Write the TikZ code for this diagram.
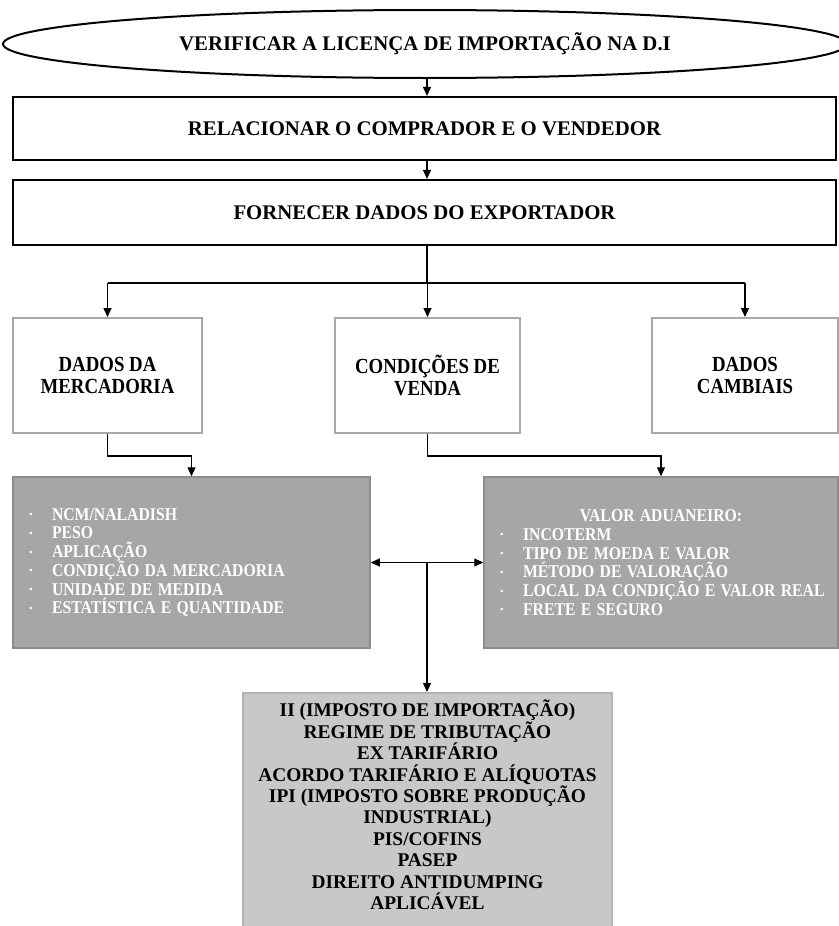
\documentclass[tikz,border=0pt]{standalone}
\usepackage{fontspec}
\usepackage{graphicx}
\setmainfont{Liberation Serif}
\usetikzlibrary{arrows.meta,shapes.geometric,calc}
\definecolor{boxgray}{HTML}{A6A6A6}
\definecolor{boxgrayline}{HTML}{8C8C8C}
\definecolor{whiteline}{HTML}{A8A8A8}
\definecolor{taxfill}{HTML}{C8C8C8}
\definecolor{taxline}{HTML}{B4B4B4}
\newcommand\cond[1]{\scalebox{0.875}[1]{#1}}
\newcommand\nolskip{\lineskiplimit -100pt\relax}
\newcommand\itm[1]{\mbox{\makebox[10pt][c]{\raisebox{2.4pt}{\fontsize{9}{9}\selectfont\textbullet}}\hspace{16pt}\cond{#1}}}
\begin{document}
\begin{tikzpicture}[x=1pt,y=-1pt,
  conn/.style={line width=1.2pt},
  arr/.style={conn,-{Triangle[length=9pt,width=8pt]}},
  ell/.style={ellipse,draw,line width=2pt,minimum width=844pt,minimum height=68pt,inner sep=0pt,
    font=\fontsize{20.8}{24}\selectfont\bfseries},
  topbox/.style={rectangle,draw,line width=2.2pt,minimum width=823pt,inner sep=0pt,
    font=\fontsize{20.8}{24}\selectfont\bfseries},
  midbox/.style={rectangle,draw=whiteline,line width=2pt,minimum height=115pt,inner sep=0pt,align=center,
    font=\fontsize{21.5}{22.5}\selectfont\bfseries\nolskip},
  graybox/.style={rectangle,fill=boxgray,draw=boxgrayline,line width=1.5pt,minimum height=171pt,
    inner xsep=13pt,inner ysep=0pt,text=white,align=left,
    font=\fontsize{18}{18.7}\selectfont\bfseries\nolskip},
  taxbox/.style={rectangle,fill=taxfill,draw=taxline,line width=1.5pt,minimum width=369pt,minimum height=245pt,inner sep=0pt},
  taxtext/.style={align=center,inner sep=0pt,font=\fontsize{19.4}{21.4}\selectfont\bfseries\nolskip}
]
\useasboundingbox (0,0) rectangle (838,926);

\node[ell] (ell) at (425,44) {VERIFICAR A LICENÇA DE IMPORTAÇÃO NA D.I};
\node[topbox,minimum height=63pt] (b1) at (424.5,128.5) {RELACIONAR O COMPRADOR E O VENDEDOR};
\node[topbox,minimum height=65pt] (b2) at (424.5,212.5) {FORNECER DADOS DO EXPORTADOR};

\node[midbox,minimum width=189pt] (wl) at (107.5,375.5) {\cond{DADOS DA}\\\cond{MERCADORIA}};
\node[midbox,minimum width=185pt] (wm) at (427.5,375.5) {\cond{CONDIÇÕES DE}\\\cond{VENDA}};
\node[midbox,minimum width=186pt] (wr) at (745,375.5) {\cond{DADOS}\\\cond{CAMBIAIS}};

\node[graybox,minimum width=357pt,text width=331pt] (gl) at (191.5,562.5)
  {\itm{NCM/NALADISH}\\ \itm{PESO}\\ \itm{APLICAÇÃO}\\ \itm{CONDIÇÃO DA MERCADORIA}\\ \itm{UNIDADE DE MEDIDA}\\ \itm{ESTATÍSTICA E QUANTIDADE}};
\node[graybox,minimum width=354pt,text width=328pt] (gr) at (661,562.5)
  {\makebox[\linewidth][c]{\cond{VALOR ADUANEIRO:}}\\ \itm{INCOTERM}\\ \itm{TIPO DE MOEDA E VALOR}\\ \itm{MÉTODO DE VALORAÇÃO}\\ \itm{LOCAL DA CONDIÇÃO E VALOR REAL}\\ \itm{FRETE E SEGURO}};

\node[taxbox,anchor=north] (tax) at (427.5,692) {};
\node[taxtext] (taxt) at (427.5,805)
  {II (IMPOSTO DE IMPORTAÇÃO)\\ REGIME DE TRIBUTAÇÃO\\ EX TARIFÁRIO\\ ACORDO TARIFÁRIO E ALÍQUOTAS\\ IPI (IMPOSTO SOBRE PRODUÇÃO\\ INDUSTRIAL)\\ PIS/COFINS\\ PASEP\\ DIREITO ANTIDUMPING\\ APLICÁVEL};

\coordinate (split) at (427,283);
\draw[arr] (ell.south -| split) -- (b1.north -| split);
\draw[arr] (b1.south -| split) -- (b2.north -| split);
\draw[conn] (b2.south -| split) -- (split);
\draw[conn] (split -| wl.north) -- (split -| wr.north);
\draw[arr] (split -| wl.north) -- (wl.north);
\draw[arr] (split -| wm.north) -- (wm.north);
\draw[arr] (split -| wr.north) -- (wr.north);

\draw[arr] (wl.south) -- ++(0,22) -| (gl.north);
\draw[arr] (wm.south) -- ++(0,22) -| (gr.north);

\draw[conn,{Triangle[length=9pt,width=8pt]}-{Triangle[length=9pt,width=8pt]}] (gl.east) -- (gr.west);
\coordinate (mid) at ($(gl.east)!0.5!(gr.west)$);
\draw[arr] (mid) -- (mid |- tax.north);
\end{tikzpicture}
\end{document}
